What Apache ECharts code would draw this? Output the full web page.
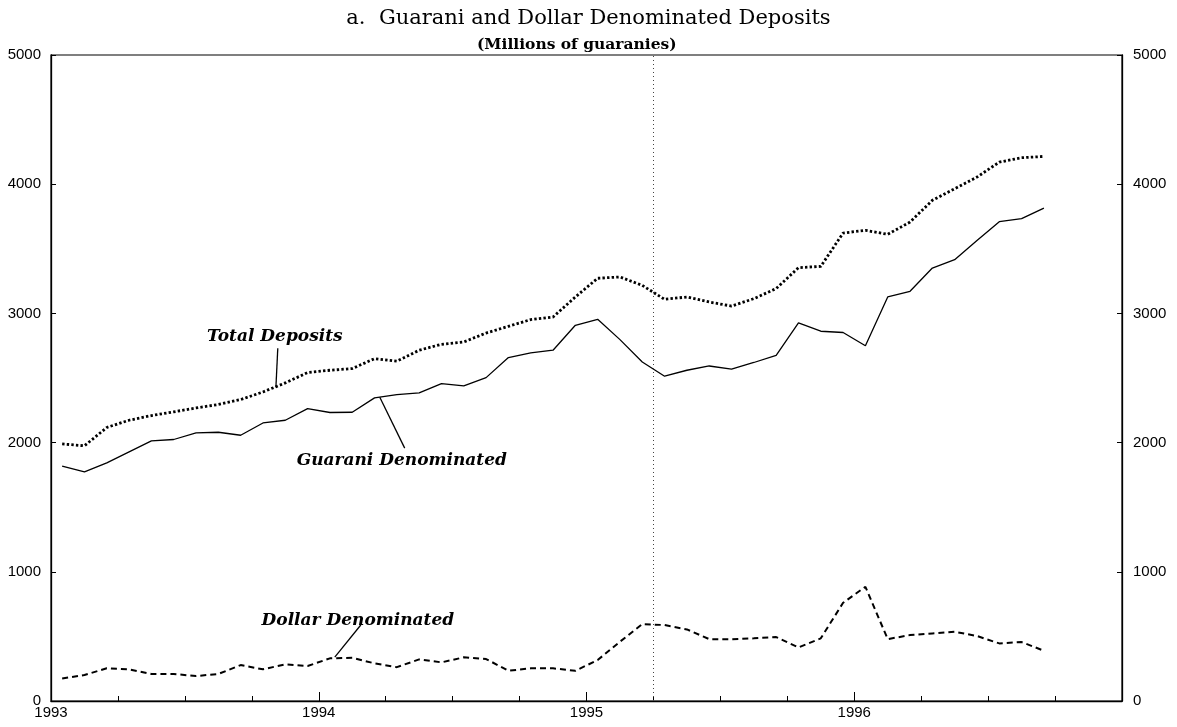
<!DOCTYPE html>
<html>
<head>
<meta charset="utf-8">
<script src="https://cdn.jsdelivr.net/npm/echarts@6/dist/echarts.min.js"></script>
<style>
  html, body { margin: 0; padding: 0; background: #fff; }
  #main { width: 1177px; height: 727px; }
</style>
</head>
<body>
<div id="main"></div>
<script>
// monthly observations, Jan 1993 - Sep 1996
const months = [
  "1993-01", "1993-02", "1993-03", "1993-04", "1993-05", "1993-06",
  "1993-07", "1993-08", "1993-09", "1993-10", "1993-11", "1993-12",
  "1994-01", "1994-02", "1994-03", "1994-04", "1994-05", "1994-06",
  "1994-07", "1994-08", "1994-09", "1994-10", "1994-11", "1994-12",
  "1995-01", "1995-02", "1995-03", "1995-04", "1995-05", "1995-06",
  "1995-07", "1995-08", "1995-09", "1995-10", "1995-11", "1995-12",
  "1996-01", "1996-02", "1996-03", "1996-04", "1996-05", "1996-06",
  "1996-07", "1996-08", "1996-09"
];
const totalDeposits = [
  1990, 1975, 2117, 2173, 2209, 2238, 2268, 2295, 2333, 2392, 2462, 2542,
  2560, 2573, 2650, 2630, 2715, 2761, 2779, 2848, 2900, 2952, 2972, 3127,
  3272, 3282, 3217, 3109, 3127, 3088, 3057, 3114, 3192, 3354, 3364, 3622,
  3643, 3612, 3707, 3875, 3965, 4055, 4171, 4205, 4215
];
const guaraniDenominated = [
  1817, 1773, 1843, 1928, 2013, 2024, 2075, 2080, 2057, 2152, 2173, 2263,
  2233, 2235, 2346, 2372, 2385, 2457, 2439, 2503, 2658, 2694, 2715, 2908,
  2954, 2797, 2624, 2514, 2560, 2593, 2568, 2620, 2676, 2926, 2862, 2852,
  2750, 3127, 3171, 3351, 3416, 3565, 3710, 3733, 3815
];
const dollarDenominated = [
  175, 201, 253, 245, 209, 209, 193, 209, 278, 245, 284, 271,
  330, 335, 291, 262, 322, 299, 338, 325, 234, 253, 253, 234,
  317, 459, 595, 588, 554, 479, 477, 485, 495, 415, 485, 760,
  884, 479, 510, 523, 536, 503, 446, 456, 389
];
const yearTicks = [1993, 1994, 1995, 1996, 1997];
const breakDate = 1995.25;

// "YYYY-MM" -> decimal year at mid-month
function toYear(s) {
  const p = s.split("-");
  return Number(p[0]) + (Number(p[1]) - 0.5) / 12;
}
function pairs(values) {
  return values.map((v, i) => [toYear(months[i]), v]);
}

const serif = "'DejaVu Serif', 'Liberation Serif', serif";
const sans = "'Liberation Sans', Arial, sans-serif";

const chart = echarts.init(document.getElementById("main"));

const yAxisBase = {
  type: "value",
  min: 0,
  max: 5000,
  interval: 1000,
  axisLine: { show: true, lineStyle: { color: "#000", width: 1.3 } },
  axisTick: { show: true, inside: true, length: 5, lineStyle: { color: "#000" } },
  splitLine: { show: false },
  axisLabel: { color: "#000", fontFamily: sans, fontSize: 15, margin: 10, formatter: v => String(v) }
};

const labelStyle = {
  color: "#000",
  fontFamily: serif,
  fontStyle: "italic",
  fontWeight: "bold",
  fontSize: 17
};

chart.setOption({
  animation: false,
  backgroundColor: "#fff",
  title: [
    {
      text: "a.  Guarani and Dollar Denominated Deposits",
      left: "center",
      top: 3,
      textStyle: { fontFamily: serif, fontWeight: "normal", fontSize: 21, color: "#000" }
    },
    {
      text: "(Millions of guaranies)",
      left: 472,
      top: 32,
      textStyle: { fontFamily: serif, fontWeight: "bold", fontSize: 15.5, color: "#000" }
    }
  ],
  grid: {
    left: 51,
    right: 55,
    top: 55,
    bottom: 26,
    show: true,
    borderColor: "#000",
    borderWidth: 1.2
  },
  xAxis: {
    type: "value",
    min: yearTicks[0],
    max: yearTicks[yearTicks.length - 1],
    interval: 1,
    axisLine: { show: true, onZero: false, lineStyle: { color: "#000", width: 1.3 } },
    axisTick: { show: true, inside: true, length: 9, lineStyle: { color: "#000" } },
    minorTick: { show: true, splitNumber: 4, length: 5, lineStyle: { color: "#000" } },
    splitLine: { show: false },
    axisLabel: {
      color: "#000",
      fontFamily: sans,
      fontSize: 15,
      margin: 4,
      formatter: v => (v === yearTicks[yearTicks.length - 1] ? "" : String(v))
    }
  },
  yAxis: [
    Object.assign({}, yAxisBase, { position: "left" }),
    Object.assign({}, yAxisBase, { position: "right", axisLabel: Object.assign({}, yAxisBase.axisLabel, { margin: 11 }) })
  ],
  series: [
    {
      name: "Total Deposits",
      type: "line",
      data: pairs(totalDeposits),
      showSymbol: false,
      lineStyle: { color: "#000", width: 2.8, type: [2.4, 2.2] }
    },
    {
      name: "Guarani Denominated",
      type: "line",
      data: pairs(guaraniDenominated),
      showSymbol: false,
      lineStyle: { color: "#000", width: 1.3, type: "solid" },
      markLine: {
        silent: true,
        symbol: "none",
        label: { show: false },
        data: [
          { xAxis: breakDate, lineStyle: { color: "#444", width: 1, type: [1, 3] } },
          [
            { coord: [1993.847, 2730], lineStyle: { color: "#000", width: 1.3, type: "solid" } },
            { coord: [1993.840, 2428] }
          ],
          [
            { coord: [1994.228, 2351], lineStyle: { color: "#000", width: 1.3, type: "solid" } },
            { coord: [1994.321, 1957] }
          ],
          [
            { coord: [1994.060, 340], lineStyle: { color: "#000", width: 1.3, type: "solid" } },
            { coord: [1994.157, 588] }
          ]
        ]
      },
      markPoint: {
        silent: true,
        symbol: "circle",
        symbolSize: 0,
        label: Object.assign({ show: true, position: "inside", formatter: p => p.name }, labelStyle),
        data: [
          { name: "Total Deposits", coord: [1993.836, 2823] },
          { name: "Guarani Denominated", coord: [1994.310, 1864] },
          { name: "Dollar Denominated", coord: [1994.146, 626] }
        ]
      }
    },
    {
      name: "Dollar Denominated",
      type: "line",
      data: pairs(dollarDenominated),
      showSymbol: false,
      lineStyle: { color: "#000", width: 2, type: [6, 4] }
    }
  ]
});
</script>
</body>
</html>
